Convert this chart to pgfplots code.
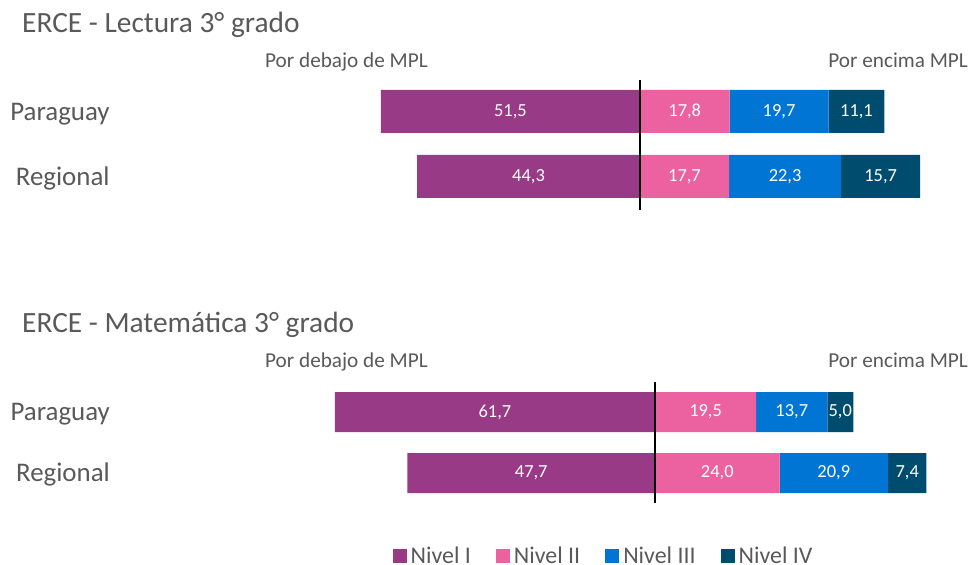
\documentclass[border=0pt]{standalone}
\usepackage{fontspec}
\setmainfont{Carlito}
\usepackage{pgfplots}
\usepackage{pgfplotstable}
\pgfplotsset{compat=1.18}

\definecolor{niv1}{HTML}{993A86}
\definecolor{niv2}{HTML}{EC619F}
\definecolor{niv3}{HTML}{0075D3}
\definecolor{niv4}{HTML}{004C6E}
\definecolor{txt}{HTML}{595959}

% y: 1 = Paraguay, 0 = Regional
\pgfplotstableread{
y n1 n2 n3 n4
1 51.5 17.8 19.7 11.1
0 44.3 17.7 22.3 15.7
}\lectura
\pgfplotstableread{
y n1 n2 n3 n4
1 61.7 19.5 13.7 5.0
0 47.7 24.0 20.9 7.4
}\matematica

\pgfplotsset{
  panel/.style={
    scale only axis,
    axis line style={draw=none},
    xtick=\empty,
    ytick={0,1},
    ymin=-1, ymax=2,
    major tick length=0pt,
    clip=false,
    point meta=explicit,
    nodes near coords={\pgfmathprintnumber[fixed,fixed zerofill,precision=1,use comma,assume math mode=true]{\pgfplotspointmeta}},
    every node near coord/.append style={font=\fontsize{18.5}{20}\selectfont, text=white, anchor=center,
      shift={(axis direction cs:\sh,0)}},
  },
  cats/.style={
    yticklabels={Regional,Paraguay},
    yticklabel style={font=\fontsize{27}{30}\selectfont, text=txt, anchor=base east, inner sep=0pt, yshift=-8.7bp},
  },
  nocats/.style={yticklabels={}},
}

\newcommand{\hdr}[1]{\fontsize{21.3}{24}\selectfont\color{txt}#1}

\begin{document}
\begin{tikzpicture}
\useasboundingbox (0,0) rectangle (970bp,565bp);

% ---- Lectura ----
\begin{axis}[panel, cats, at={(109.8bp,323.5bp)}, anchor=south west,
  width=855.1bp, height=195bp, xmin=-105.4, xmax=64.6,
  xbar, bar width=43bp, bar shift=0pt]
  \addplot[fill=niv1, draw=none, visualization depends on={0.5*\thisrow{n1} \as \sh}]
    table[x expr=-\thisrow{n1}, y=y, meta=n1] {\lectura};
\end{axis}
\begin{axis}[panel, nocats, at={(109.8bp,323.5bp)}, anchor=south west,
  width=855.1bp, height=195bp, xmin=-105.4, xmax=64.6,
  xbar stacked, bar width=43bp]
  \addplot[fill=niv2, draw=none, visualization depends on={-0.5*\thisrow{n2} \as \sh}]
    table[x=n2, y=y, meta=n2] {\lectura};
  \addplot[fill=niv3, draw=none, visualization depends on={-0.5*\thisrow{n3} \as \sh}]
    table[x=n3, y=y, meta=n3] {\lectura};
  \addplot[fill=niv4, draw=none, visualization depends on={-0.5*\thisrow{n4} \as \sh}]
    table[x=n4, y=y, meta=n4] {\lectura};
\end{axis}
\begin{axis}[scale only axis, hide axis, at={(109.8bp,323.5bp)}, anchor=south west,
  width=855.1bp, height=195bp, xmin=-105.4, xmax=64.6, ymin=-1, ymax=2, clip=false]
  \addplot[black, line width=2bp] coordinates {(0,-0.515) (0,1.485)};
\end{axis}

% ---- Matematica ----
\begin{axis}[panel, cats, at={(110.05bp,31bp)}, anchor=south west,
  width=856.35bp, height=183bp, xmin=-105, xmax=60,
  xbar, bar width=40bp, bar shift=0pt]
  \addplot[fill=niv1, draw=none, visualization depends on={0.5*\thisrow{n1} \as \sh}]
    table[x expr=-\thisrow{n1}, y=y, meta=n1] {\matematica};
\end{axis}
\begin{axis}[panel, nocats, at={(110.05bp,31bp)}, anchor=south west,
  width=856.35bp, height=183bp, xmin=-105, xmax=60,
  xbar stacked, bar width=40bp,
  legend columns=4,
  legend style={at={(0.5757,-0.120)}, anchor=center, draw=none, fill=none,
    font=\fontsize{24}{26}\selectfont, text=txt,
    /tikz/every odd column/.append style={column sep=3bp},
    /tikz/every even column/.append style={column sep=24bp},
    nodes={inner xsep=1bp, inner ysep=0pt},
    inner sep=0pt,
  },
  legend cell align=left,
  legend image code/.code={\fill[#1] (0bp,-7bp) rectangle (14bp,7bp);}]
  \addlegendimage{fill=niv1, draw=none}
  \addlegendentry{Nivel I}
  \addplot[fill=niv2, draw=none, visualization depends on={-0.5*\thisrow{n2} \as \sh}]
    table[x=n2, y=y, meta=n2] {\matematica};
  \addlegendentry{Nivel II}
  \addplot[fill=niv3, draw=none, visualization depends on={-0.5*\thisrow{n3} \as \sh}]
    table[x=n3, y=y, meta=n3] {\matematica};
  \addlegendentry{Nivel III}
  \addplot[fill=niv4, draw=none, visualization depends on={-0.5*\thisrow{n4} \as \sh}]
    table[x=n4, y=y, meta=n4] {\matematica};
  \addlegendentry{Nivel IV}
\end{axis}
\begin{axis}[scale only axis, hide axis, at={(110.05bp,31bp)}, anchor=south west,
  width=856.35bp, height=183bp, xmin=-105, xmax=60, ymin=-1, ymax=2, clip=false]
  \addplot[black, line width=2bp] coordinates {(0,-0.49) (0,1.49)};
\end{axis}

% ---- texts ----
\node[anchor=base west, inner sep=0pt, font=\fontsize{29.5}{32}\selectfont, text=txt] at (22bp,532bp) {ERCE - Lectura 3° grado};
\node[anchor=base west, inner sep=0pt] at (265bp,497bp) {\hdr{Por debajo de MPL}};
\node[anchor=base east, inner sep=0pt] at (968bp,497bp) {\hdr{Por encima MPL}};
\node[anchor=base west, inner sep=0pt, font=\fontsize{29.5}{32}\selectfont, text=txt] at (22bp,232bp) {ERCE - Matemática 3° grado};
\node[anchor=base west, inner sep=0pt] at (265bp,197bp) {\hdr{Por debajo de MPL}};
\node[anchor=base east, inner sep=0pt] at (968bp,197bp) {\hdr{Por encima MPL}};
\end{tikzpicture}
\end{document}
